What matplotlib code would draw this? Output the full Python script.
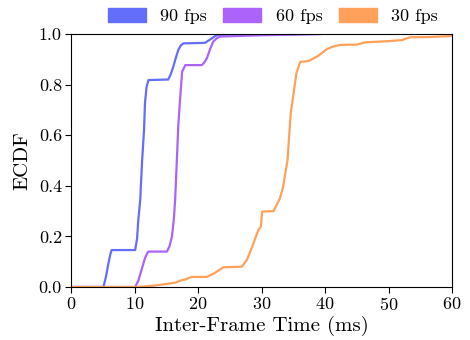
import matplotlib
matplotlib.use("Agg")
import matplotlib.pyplot as plt
from matplotlib.patches import Patch

plt.rcParams['font.family'] = 'serif'
plt.rcParams['font.serif'] = ['cmr10']
plt.rcParams['mathtext.fontset'] = 'cm'
plt.rcParams['axes.formatter.use_mathtext'] = True

# ECDF curves (ms, fraction)
fps90_x = [0, 5.1, 5.5, 5.9, 6.2, 6.4, 10.1, 10.4, 10.6, 10.9, 11.2, 11.5, 11.65, 11.9, 12.2, 15.3, 15.7,
           16.1, 16.5, 16.9, 17.3, 17.7, 21.1, 21.7, 22.2, 22.7, 23.2, 30.0, 39.2]
fps90_y = [0, 0, 0.04, 0.094, 0.13, 0.146, 0.146, 0.19, 0.265, 0.344, 0.5, 0.62, 0.727, 0.79, 0.818, 0.82, 0.84,
           0.87, 0.905, 0.937, 0.955, 0.963, 0.965, 0.975, 0.983, 0.992, 0.997, 0.999, 1.0]

fps60_x = [0, 10.1, 10.6, 11.1, 11.65, 12.0, 12.2, 15.1, 15.5, 15.9, 16.2, 16.4, 16.7, 16.9, 17.2, 17.5, 18.0,
           20.6, 21.0, 21.4, 21.9, 22.4, 23.0, 23.5, 30.0, 39.2]
fps60_y = [0, 0, 0.025, 0.067, 0.114, 0.133, 0.14, 0.14, 0.16, 0.2, 0.27, 0.344, 0.52, 0.64, 0.75, 0.851, 0.877,
           0.877, 0.888, 0.904, 0.94, 0.97, 0.984, 0.99, 0.995, 1.0]

fps30_x = [0, 10.1, 13.0, 16.4, 17.2, 18.0, 19.0, 21.4, 22.6, 24.0, 26.9, 27.7, 28.4, 29.5, 29.9, 30.1, 31.9, 32.9,
           33.4, 34.1, 34.6, 35.5, 36.1, 37.4, 38.9, 40.3, 41.2, 42.4, 45.0, 46.3, 50.2, 52.1, 53.4, 56.5, 60.0, 62.0]
fps30_y = [0, 0, 0.005, 0.017, 0.025, 0.03, 0.04, 0.04, 0.055, 0.078, 0.08, 0.107, 0.15, 0.225, 0.238, 0.298, 0.3, 0.35,
           0.396, 0.502, 0.686, 0.845, 0.89, 0.893, 0.913, 0.94, 0.95, 0.957, 0.958, 0.967, 0.972, 0.976, 0.987, 0.988, 0.992, 0.993]

labels = ['90 fps', '60 fps', '30 fps']
colors = ['#636EFA', '#AB63FA', '#FFA15A']

fig = plt.figure(figsize=(4.7, 3.4), dpi=100)
ax = fig.add_axes([71/470, 1-287/340, 381/470, 253/340])

for xs, ys, c in [(fps90_x, fps90_y, colors[0]), (fps60_x, fps60_y, colors[1]), (fps30_x, fps30_y, colors[2])]:
    ax.plot(xs, ys, color=c, lw=1.6)

ax.set_xlim(0, 60)
ax.set_ylim(0, 1)
ax.set_xticks([0, 10, 20, 30, 40, 50, 60])
ax.set_yticks([0, 0.2, 0.4, 0.6, 0.8, 1.0])
ax.set_yticklabels(['0.0', '0.2', '0.4', '0.6', '0.8', '1.0'])
ax.tick_params(labelsize=13, length=4, width=0.8, pad=2.5)
ax.set_xlabel('Inter-Frame Time (ms)', fontsize=15, labelpad=2)
ax.set_ylabel('ECDF', fontsize=15, labelpad=5)

handles = [Patch(color=c) for c in colors]
fig.legend(handles, labels, loc='center', bbox_to_anchor=(273/470, 1-16/340), ncol=3, frameon=False,
           fontsize=13, handlelength=2.1, handleheight=0.8, handletextpad=0.8, columnspacing=0.9)

plt.savefig('out.png', dpi=100)
